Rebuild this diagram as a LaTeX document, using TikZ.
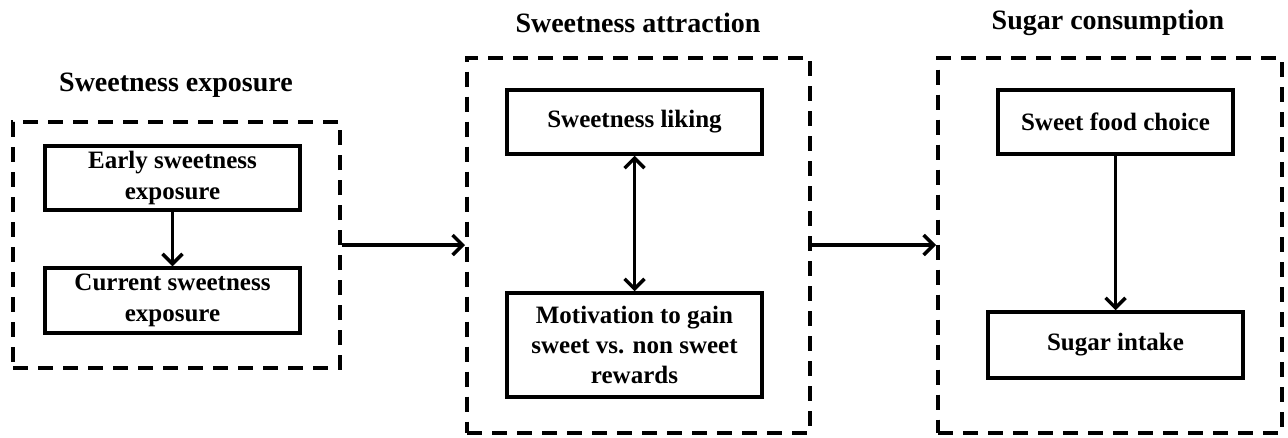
\documentclass[tikz,border=0pt]{standalone}
\usepackage{fontspec}
\setmainfont{Liberation Serif}
\usetikzlibrary{arrows.meta, positioning}

\begin{document}
\begin{tikzpicture}[x=1pt, y=-1pt, align=center,
  font=\fontsize{25}{31}\selectfont\bfseries,
  box/.style={draw, line width=3.5pt, inner sep=0pt, minimum width=255pt, minimum height=64pt},
  frame/.style={draw, dash pattern=on 15pt off 10pt, line width=4pt, inner sep=0pt},
  heading/.style={font=\fontsize{28}{32}\selectfont\bfseries},
  arr/.style={line width=3.5pt, -{Straight Barb[length=10pt, width=20pt]}},
  dblarr/.style={line width=3.5pt, {Straight Barb[length=10pt, width=20pt]}-{Straight Barb[length=10pt, width=20pt]}}]
  \useasboundingbox (0,0) rectangle (1288,437);

  % exposure
  \node[frame, minimum width=327pt, minimum height=246pt] (lframe) at (176.5,245) {};
  \node[heading] (ltitle) at (176,85) {Sweetness exposure};
  \node[box] (early) at (172.5,178) {Early sweetness\\exposure};
  \node[box, minimum height=65pt] (current) at (172.5,300.5) {Current sweetness\\exposure};

  % attraction
  \node[frame, minimum width=343pt, minimum height=375pt] (mframe) at (638.5,245) {};
  \node[heading] (mtitle) at (638,23) {Sweetness attraction};
  \node[box] (liking) at (634.5,122) {Sweetness liking};
  \node[box, minimum height=104pt, font=\fontsize{25}{30}\selectfont\bfseries] (motiv) at (634.5,345) {Motivation to gain\\sweet vs. non sweet\\rewards};

  % consumption
  \node[frame, minimum width=344pt, minimum height=375pt] (rframe) at (1110,245) {};
  \node[heading] (rtitle) at (1108,23) {Sugar consumption};
  \node[box, minimum width=235pt] (choice) at (1115.5,122) {Sweet food choice};
  \node[box, minimum height=66pt] (intake) at (1115.5,345) {Sugar intake};

  \draw[arr] (early) -- (current);
  \draw[dblarr] (liking) -- (motiv);
  \draw[arr] (choice) -- (intake);
  \draw[arr] (lframe) -- (mframe);
  \draw[arr] (mframe) -- (rframe);
\end{tikzpicture}
\end{document}
